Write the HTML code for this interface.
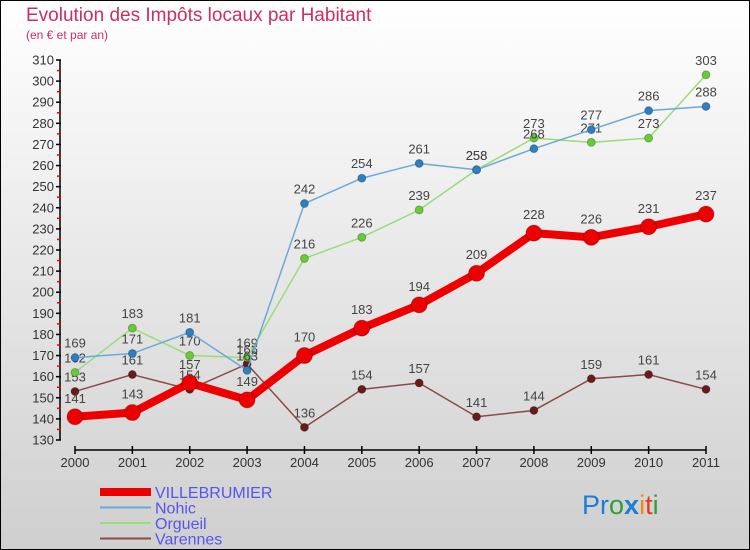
<!DOCTYPE html>
<html><head><meta charset="utf-8"><style>
html,body{margin:0;padding:0}
#wrap{position:relative;width:750px;height:550px;overflow:hidden}
svg{display:block}
text{font-family:"Liberation Sans","DejaVu Sans",sans-serif}
</style></head><body>
<div id="wrap">
<svg id="chart" width="750" height="550" viewBox="0 0 750 550">
<defs>
<linearGradient id="bg" x1="0" y1="0" x2="0" y2="1">
<stop offset="0" stop-color="#ffffff"/><stop offset="1" stop-color="#cfcfcf"/>
</linearGradient>
</defs>
<rect x="0.5" y="0.5" width="749" height="549" fill="url(#bg)" stroke="#000" stroke-width="1"/>
<text x="26" y="21" font-size="19" fill="#cc2f5e">Evolution des Impôts locaux par Habitant</text>
<text x="26" y="39" font-size="12" fill="#cc2f5e">(en € et par an)</text>
<g id="axes"></g>
<g id="series"></g>
<g id="legend"></g>
<text x="582" y="514" font-size="27"><tspan fill="#1a7fd6">Pr</tspan><tspan fill="#2e9e3a">o</tspan><tspan fill="#1a7fd6" font-weight="bold">x</tspan><tspan fill="#f08a1a">i</tspan><tspan fill="#e83a1a">t</tspan><tspan fill="#2e9e3a">i</tspan></text>
</svg>
</div>
<script>
const years = ['2000','2001','2002','2003','2004','2005','2006','2007','2008','2009','2010','2011'];
const villebrumier = [141,143,157,149,170,183,194,209,228,226,231,237];
const nohic = [169,171,181,163,242,254,261,258,268,277,286,288];
const orgueil = [162,183,170,169,216,226,239,258,273,271,273,303];
const varennes = [153,161,154,166,136,154,157,141,144,159,161,154];
const yTicks = [130,140,150,160,170,180,190,200,210,220,230,240,250,260,270,280,290,300,310];
const seriesNames = ['VILLEBRUMIER','Nohic','Orgueil','Varennes'];

const NS='http://www.w3.org/2000/svg';
const X0=75,X1=706,Y0=440,Y1=60,VMIN=130,VMAX=310;
function xs(i){return X0+(X1-X0)*i/(years.length-1);}
function ys(v){return Y0-(v-VMIN)*(Y0-Y1)/(VMAX-VMIN);}
function mk(tag,attrs,parent){const e=document.createElementNS(NS,tag);for(const k in attrs)e.setAttribute(k,attrs[k]);parent.appendChild(e);return e;}
const axes=document.getElementById('axes');
const yAxis=mk('line',{x1:60,y1:ys(VMAX),x2:60,y2:ys(VMIN),stroke:'#000','stroke-width':1.5},axes);


yTicks.forEach((t,i)=>{
  const y=ys(t);
  const tk=mk('line',{x1:56,y1:y,x2:61,y2:y,stroke:'#000','stroke-width':1.5},axes);
  
  
  const lb=mk('text',{x:54,y:y+4.5,'text-anchor':'end','font-size':13,fill:'#333'},axes);
  lb.textContent=t;
  
  
  if(i<yTicks.length-1){
    const m=mk('line',{x1:57,y1:ys(t+5),x2:61,y2:ys(t+5),stroke:'#e00','stroke-width':1.5},axes);
    
    
  }
});
const xAxis=mk('line',{x1:X0,y1:450,x2:X1,y2:450,stroke:'#000','stroke-width':1.5},axes);


years.forEach((yr,i)=>{
  const x=xs(i);
  const tk=mk('line',{x1:x,y1:446,x2:x,y2:454,stroke:'#000','stroke-width':1.5},axes);
  
  
  const lb=mk('text',{x:x,y:467,'text-anchor':'middle','font-size':13,fill:'#333'},axes);
  lb.textContent=yr;
  
  
});
const sg=document.getElementById('series');
const defs=[
  {data:varennes,color:'#6b1a1a',line:'#8a4a4a',w:1.5,r:4,name:'varennes'},
  {data:orgueil,color:'#66cc33',line:'#99dd77',w:1.5,r:4,name:'orgueil'},
  {data:nohic,color:'#2b7fc4',line:'#6aaad8',w:1.5,r:4,name:'nohic'},
  {data:villebrumier,color:'#ee0000',line:'#ee0000',w:8,r:8,name:'villebrumier'}
];
defs.forEach(s=>{
  const pts=s.data.map((v,i)=>xs(i)+','+ys(v)).join(' ');
  const pl=mk('polyline',{points:pts,fill:'none',stroke:s.line,'stroke-width':s.w,'stroke-linejoin':'round'},sg);
  
  
  s.data.forEach((v,i)=>{
    const c=mk('circle',{cx:xs(i),cy:ys(v),r:s.r,fill:s.color,stroke:'rgba(0,0,0,0.25)','stroke-width':1},sg);
    
    
    const t=mk('text',{x:xs(i),y:ys(v)-(s.r+6),'text-anchor':'middle','font-size':13,fill:'#444'},sg);
    t.textContent=v;
    
    
  });
});
const lg=document.getElementById('legend');
const ld=[{c:'#ee0000',w:8},{c:'#6aaad8',w:2},{c:'#99dd77',w:2},{c:'#8a4a4a',w:2}];
seriesNames.forEach((n,i)=>{
  const y=492+i*15.5;
  const l=mk('line',{x1:100,y1:y,x2:151,y2:y,stroke:ld[i].c,'stroke-width':ld[i].w},lg);
  
  
  const t=mk('text',{x:155,y:y+6,'font-size':16,fill:'#5555ee'},lg);
  t.textContent=n;
  
  
});
</script>
</body></html>
